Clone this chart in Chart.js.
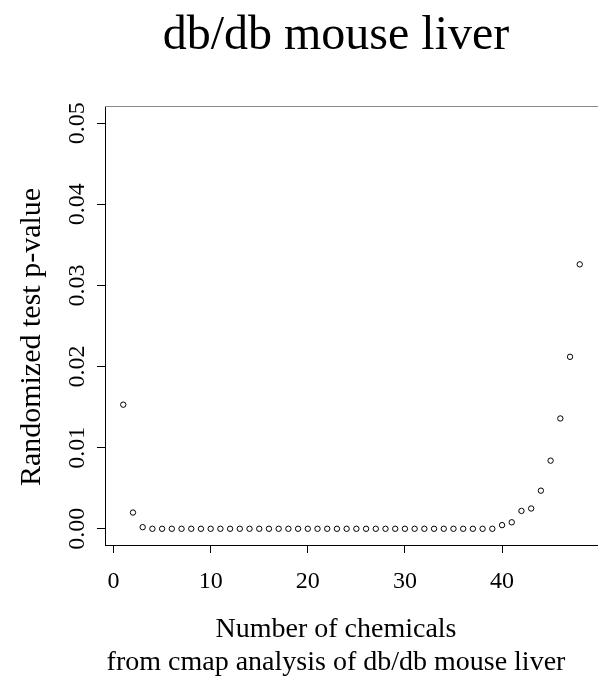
<!DOCTYPE html>
<html>
<head>
<meta charset="utf-8">
<title>db/db mouse liver</title>
<script src="https://cdn.jsdelivr.net/npm/chart.js@4.4.1/dist/chart.umd.min.js"></script>
<style>
    html, body { margin: 0; padding: 0; background: #fff; }
    #grafica { display: block; }
</style>
</head>
<body>
<canvas id="grafica" width="598" height="678"></canvas>
<script>
const numChemicals = [1, 2, 3, 4, 5, 6, 7, 8, 9, 10, 11, 12, 13, 14, 15, 16, 17, 18, 19, 20, 21, 22, 23, 24,
                      25, 26, 27, 28, 29, 30, 31, 32, 33, 34, 35, 36, 37, 38, 39, 40, 41, 42, 43, 44, 45, 46, 47, 48];
const pValues = [0.0153, 0.0020, 0.0002, 0, 0, 0, 0, 0, 0, 0, 0, 0, 0, 0, 0, 0, 0, 0, 0, 0, 0, 0, 0, 0,
                 0, 0, 0, 0, 0, 0, 0, 0, 0, 0, 0, 0, 0, 0, 0, 0.00045, 0.0008, 0.0022, 0.0025, 0.0047, 0.0084, 0.0136, 0.0212, 0.0326];
const xTicks = [0, 10, 20, 30, 40];
const yTicks = [0, 0.01, 0.02, 0.03, 0.04, 0.05];
const yTickLabels = ['0.00', '0.01', '0.02', '0.03', '0.04', '0.05'];
const mainTitle = 'db/db mouse liver';
const yTitle = 'Randomized test p-value';
const xTitle = ['Number of chemicals', 'from cmap analysis of db/db mouse liver'];

const serif = '"Liberation Serif", "Times New Roman", serif';

// titles and the grey top edge of the box
const titlesPlugin = {
    id: 'titles',
    afterDraw(chart) {
        const ctx = chart.ctx;
        const area = chart.chartArea;
        ctx.save();
        ctx.strokeStyle = '#8c8c8c';
        ctx.lineWidth = 1;
        ctx.beginPath();
        ctx.moveTo(area.left, area.top - 0.5);
        ctx.lineTo(area.right, area.top - 0.5);
        ctx.stroke();

        ctx.fillStyle = '#000';
        ctx.textAlign = 'center';
        ctx.textBaseline = 'alphabetic';
        ctx.font = '48px ' + serif;
        ctx.fillText(mainTitle, 336, 49);
        ctx.font = '28px ' + serif;
        ctx.fillText(xTitle[0], 336, 637);
        ctx.fillText(xTitle[1], 336, 670);
        ctx.font = '30px ' + serif;
        ctx.translate(40, 337);
        ctx.rotate(-Math.PI / 2);
        ctx.fillText(yTitle, 0, 0);
        ctx.restore();
    }
};

const ctx = document.getElementById('grafica').getContext('2d');
const chart = new Chart(ctx, {
    type: 'scatter',
    data: {
        datasets: [{
            data: numChemicals.map((n, i) => ({ x: n, y: pValues[i] })),
            pointStyle: 'circle',
            pointRadius: 2.7,
            pointBorderWidth: 1,
            borderColor: '#000',
            backgroundColor: 'rgba(0, 0, 0, 0)',
            showLine: false
        }]
    },
    options: {
        responsive: false,
        animation: false,
        devicePixelRatio: 1,
        layout: { autoPadding: false, padding: { top: 107, left: 0, right: 0, bottom: 0 } },
        plugins: {
            legend: { display: false },
            tooltip: { enabled: false }
        },
        scales: {
            x: {
                type: 'linear',
                min: -0.88,
                max: 49.88,
                afterBuildTicks: axis => { axis.ticks = xTicks.map(v => ({ value: v })); },
                afterFit: axis => {
                    axis.height = 133;
                    axis.paddingLeft = 0;
                    axis.paddingRight = 0;
                },
                grid: { drawOnChartArea: false, drawTicks: true, tickLength: 8, tickColor: '#000', tickWidth: 1 },
                border: { display: true, color: '#000', width: 1 },
                ticks: {
                    color: '#000',
                    font: { family: serif, size: 24 },
                    padding: 14,
                    maxRotation: 0,
                    autoSkip: false
                }
            },
            y: {
                type: 'linear',
                min: -0.002,
                max: 0.052,
                afterBuildTicks: axis => { axis.ticks = yTicks.map(v => ({ value: v })); },
                afterFit: axis => {
                    axis.width = 105;
                    axis.paddingTop = 0;
                    axis.paddingBottom = 0;
                },
                grid: { drawOnChartArea: false, drawTicks: true, tickLength: 8, tickColor: '#000', tickWidth: 1 },
                border: { display: true, color: '#000', width: 1 },
                ticks: {
                    color: '#000',
                    font: { family: serif, size: 24 },
                    padding: -2,
                    minRotation: 90,
                    maxRotation: 90,
                    crossAlign: 'center',
                    autoSkip: false,
                    callback: (value, i) => yTickLabels[i]
                }
            }
        }
    },
    plugins: [titlesPlugin]
});
</script>
</body>
</html>
